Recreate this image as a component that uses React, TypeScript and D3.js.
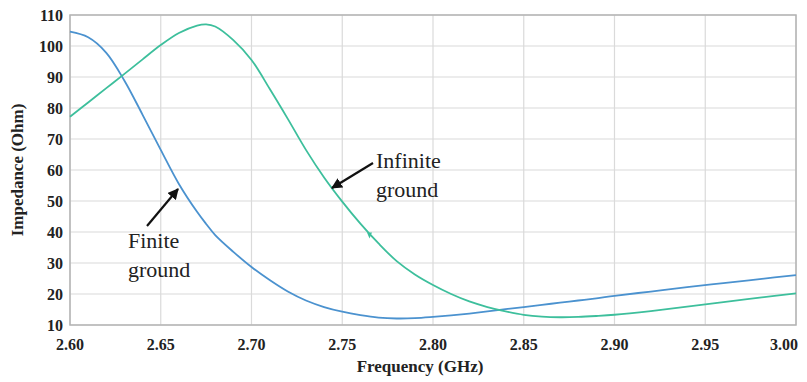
import React from "react";
import * as d3 from "d3";

const freq = [2.60, 2.61, 2.62, 2.63, 2.64, 2.65, 2.66, 2.67, 2.675, 2.68, 2.69, 2.70, 2.71, 2.72, 2.73, 2.74, 2.75, 2.76, 2.77, 2.78, 2.79, 2.80, 2.81, 2.82, 2.83, 2.84, 2.85, 2.86, 2.87, 2.88, 2.89, 2.90, 2.92, 2.94, 2.96, 2.98, 3.00];
const finiteGround = [104.6, 102.8, 97.8, 88.8, 77.8, 66.5, 55.5, 46.5, 42.6, 39, 33.6, 28.7, 24.5, 20.8, 17.9, 15.8, 14.3, 13.2, 12.4, 12.1, 12.2, 12.6, 13.1, 13.7, 14.4, 15.1, 15.8, 16.5, 17.2, 17.9, 18.6, 19.4, 20.8, 22.2, 23.5, 24.8, 26.1];
const infiniteGround = [77.2, 81.8, 86.4, 91, 95.7, 100.3, 104.2, 106.6, 107, 106.3, 101.9, 95.5, 86.2, 76.5, 66.5, 57.6, 49.8, 42.7, 36.3, 30.6, 26.3, 22.9, 20, 17.6, 15.8, 14.4, 13.3, 12.7, 12.5, 12.6, 12.9, 13.3, 14.5, 15.9, 17.4, 18.8, 20.2];
const xTicks = [2.60, 2.65, 2.70, 2.75, 2.80, 2.85, 2.90, 2.95, 3.00];
const yTicks = [10, 20, 30, 40, 50, 60, 70, 80, 90, 100, 110];

const BLUE = "#4b92cf";
const GREEN = "#3dbf9c";

export default function App() {
  const W = 807, H = 382;
  const m = { left: 70, right: 11, top: 15, bottom: 57 };
  const x = d3.scaleLinear().domain([2.6, 3.0]).range([m.left, W - m.right]);
  const y = d3.scaleLinear().domain([10, 110]).range([H - m.bottom, m.top]);
  const line = d3
    .line<number>()
    .x((_, i) => x(freq[i]))
    .curve(d3.curveCatmullRom.alpha(0.5));
  const blueLine = line.y((d) => y(d))(finiteGround) as string;
  const greenLine = line.y((d) => y(d))(infiniteGround) as string;

  const serif = "'Liberation Serif', 'Times New Roman', serif";
  // marker on green curve
  const mf = 2.765;
  const mv = d3.scaleLinear().domain(freq).range(infiniteGround)(mf);

  return (
    <svg
      width={W}
      height={H}
      style={{ position: "absolute", left: 0, top: 0, background: "#fff" }}
      fontFamily={serif}
    >
      <defs>
        <marker id="ah" viewBox="0 0 10 10" refX="9" refY="5" markerWidth="5" markerHeight="5" orient="auto">
          <path d="M0,0 L10,5 L0,10 z" fill="#111" />
        </marker>
      </defs>
      {xTicks.map((t) => (
        <line key={"gx" + t} x1={x(t)} x2={x(t)} y1={y(10)} y2={y(110)} stroke="#dadada" strokeWidth={1.2} />
      ))}
      {yTicks.map((t) => (
        <line key={"gy" + t} x1={x(2.6)} x2={x(3.0)} y1={y(t)} y2={y(t)} stroke="#dadada" strokeWidth={1.2} />
      ))}
      <rect x={x(2.6)} y={y(110)} width={x(3.0) - x(2.6)} height={y(10) - y(110)} fill="none" stroke="#b4b4b4" strokeWidth={1.5} />
      <path d={blueLine} fill="none" stroke={BLUE} strokeWidth={1.8} />
      <path d={greenLine} fill="none" stroke={GREEN} strokeWidth={1.8} />
      <path
        d={`M${x(mf) - 2.5},${y(mv) - 1} L${x(mf) + 2.5},${y(mv) - 1} L${x(mf)},${y(mv) + 5} z`}
        fill={GREEN}
      />
      {yTicks.map((t) => (
        <text key={"ty" + t} x={63} y={y(t)} dy="0.35em" textAnchor="end" fontWeight="bold" fontSize={16} fill="#222">
          {t}
        </text>
      ))}
      {xTicks.map((t) => (
        <text key={"tx" + t} x={Math.min(x(t), 784)} y={350} textAnchor="middle" fontWeight="bold" fontSize={16} fill="#222">
          {t.toFixed(2)}
        </text>
      ))}
      <text x={420} y={372} textAnchor="middle" fontWeight="bold" fontSize={17} fill="#222">
        Frequency (GHz)
      </text>
      <text transform={`translate(23,${(y(10) + y(110)) / 2}) rotate(-90)`} textAnchor="middle" fontWeight="bold" fontSize={17} fill="#222">
        Impedance (Ohm)
      </text>
      <line x1={147} y1={226} x2={178} y2={189} stroke="#111" strokeWidth={2.2} markerEnd="url(#ah)" />
      <line x1={373} y1={163} x2={332} y2={188} stroke="#111" strokeWidth={2.2} markerEnd="url(#ah)" />
      <text x={128} y={248} fontSize={22} fill="#222">Finite</text>
      <text x={128} y={277} fontSize={22} fill="#222">ground</text>
      <text x={376} y={168} fontSize={22} fill="#222">Infinite</text>
      <text x={376} y={197} fontSize={22} fill="#222">ground</text>
    </svg>
  );
}
